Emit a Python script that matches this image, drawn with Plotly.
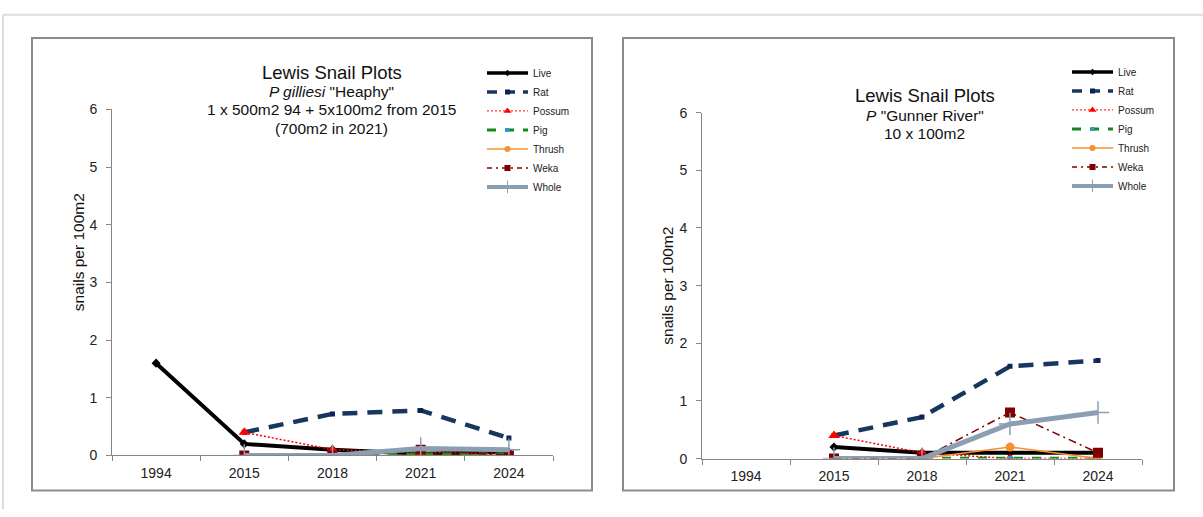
import plotly.graph_objects as go

# Survey years (category axis)
years = ["1994", "2015", "2018", "2021", "2024"]

# Plot 1: P gilliesi "Heaphy" — snails per 100m2
heaphy_live = [1.6, 0.2, 0.1, 0.03, 0.06]
heaphy_rat = [None, 0.4, 0.72, 0.78, 0.3]
heaphy_possum = [None, 0.4, 0.1, 0.05, 0.03]
heaphy_pig = [None, 0.0, 0.0, 0.02, 0.02]
heaphy_thrush = [None, 0.0, 0.0, 0.0, 0.0]
heaphy_weka = [None, 0.0, 0.0, 0.1, 0.0]
heaphy_whole = [None, 0.0, 0.0, 0.12, 0.1]

# Plot 2: P "Gunner River" — snails per 100m2
gunner_live = [None, 0.2, 0.1, 0.1, 0.1]
gunner_rat = [None, 0.4, 0.72, 1.6, 1.7]
gunner_possum = [None, 0.4, 0.1, 0.0, 0.0]
gunner_pig = [None, 0.0, 0.0, 0.0, 0.0]
gunner_thrush = [None, 0.0, 0.0, 0.2, 0.0]
gunner_weka = [None, 0.0, 0.0, 0.8, 0.1]
gunner_whole = [None, 0.0, 0.0, 0.6, 0.8]

series_names = ["Live", "Rat", "Possum", "Pig", "Thrush", "Weka", "Whole"]

FONT = "Liberation Sans, Arial, sans-serif"

# Line / marker style for each series as plotted
styles = {
    "Live": dict(line=dict(color="#000000", width=4),
                 marker=dict(symbol="diamond", size=7, color="#000000")),
    "Rat": dict(line=dict(color="#17375E", width=4.5, dash="15px,10px"),
                marker=dict(symbol="square", size=5, color="#0B2557")),
    "Possum": dict(line=dict(color="#FF0000", width=1.5, dash="2px,2px"),
                   marker=dict(symbol="triangle-up", size=10, color="#FF0000")),
    "Pig": dict(line=dict(color="#12891A", width=3.5, dash="9px,9px"),
                marker=dict(symbol="square", size=5, color="#2E98CF")),
    "Thrush": dict(line=dict(color="#F7902F", width=1.5),
                   marker=dict(symbol="circle", size=9, color="#F7902F")),
    "Weka": dict(line=dict(color="#800000", width=1.5, dash="8px,4px,2px,4px"),
                 marker=dict(symbol="square", size=10, color="#800000")),
    "Whole": dict(line=dict(color="#8C9EB2", width=5),
                  marker=dict(symbol="cross-thin", size=16,
                              line=dict(color="#8C9EB2", width=1.5))),
}

# Smaller symbols used for the legend keys
legend_styles = {
    "Live": dict(line=dict(color="#000000", width=3.5),
                 marker=dict(symbol="diamond", size=5, color="#000000")),
    "Rat": dict(line=dict(color="#17375E", width=3.5, dash="10px,8px"),
                marker=dict(symbol="square", size=5, color="#0B2557")),
    "Possum": dict(line=dict(color="#FF0000", width=1, dash="2px,2px"),
                   marker=dict(symbol="triangle-up", size=7, color="#FF0000")),
    "Pig": dict(line=dict(color="#12891A", width=3, dash="9px,9px"),
                marker=dict(symbol="square", size=4, color="#2E98CF")),
    "Thrush": dict(line=dict(color="#F7902F", width=1.5),
                   marker=dict(symbol="circle", size=6, color="#F7902F")),
    "Weka": dict(line=dict(color="#800000", width=1.5, dash="5px,4px,2px,4px"),
                 marker=dict(symbol="square", size=6, color="#800000")),
    "Whole": dict(line=dict(color="#8C9EB2", width=4),
                  marker=dict(symbol="cross-thin", size=9,
                              line=dict(color="#8C9EB2", width=1))),
}

heaphy = [heaphy_live, heaphy_rat, heaphy_possum, heaphy_pig,
          heaphy_thrush, heaphy_weka, heaphy_whole]
gunner = [gunner_live, gunner_rat, gunner_possum, gunner_pig,
          gunner_thrush, gunner_weka, gunner_whole]

fig = go.Figure()

for xa, ya, lg, data in [("x", "y", "legend", heaphy),
                         ("x2", "y2", "legend2", gunner)]:
    for name, vals in zip(series_names, data):
        fig.add_trace(go.Scatter(
            x=years, y=vals, name=name, mode="lines+markers",
            xaxis=xa, yaxis=ya, showlegend=False, hoverinfo="skip",
            **styles[name]))
    # legend keys (no data points)
    for name in series_names:
        fig.add_trace(go.Scatter(
            x=[None], y=[None], name=name, mode="lines+markers",
            xaxis=xa, yaxis=ya, legend=lg, showlegend=True,
            **legend_styles[name]))

W, H = 1203, 517


def px(x):
    return x / W


def py(y):
    return 1 - y / H


axis_common = dict(
    showline=True, linecolor="#868686", linewidth=1,
    ticks="outside", ticklen=5, tickcolor="#868686",
    showgrid=False, zeroline=False,
    tickfont=dict(family=FONT, size=14, color="#222222"),
)

xaxis_common = dict(axis_common, type="category", categoryorder="array",
                    categoryarray=years, tickson="boundaries",
                    range=[-0.5, 4.5], ticklabelstandoff=5)
yaxis_common = dict(axis_common, range=[0, 6], dtick=1, ticklabelstandoff=6)

legend_common = dict(
    font=dict(family=FONT, size=10, color="#222222"),
    bgcolor="rgba(0,0,0,0)", borderwidth=0, tracegroupgap=0,
    xanchor="left", yanchor="top", itemclick=False, itemwidth=41,
)

fig.update_layout(
    width=W, height=H, autosize=False,
    margin=dict(l=0, r=0, t=0, b=0),
    paper_bgcolor="#FFFFFF", plot_bgcolor="rgba(0,0,0,0)",
    font=dict(family=FONT, color="#222222"),
    xaxis=dict(xaxis_common, domain=[px(112), px(553)], anchor="y"),
    yaxis=dict(yaxis_common, domain=[py(461.7), py(104.7)], anchor="x"),
    xaxis2=dict(xaxis_common, domain=[px(702), px(1142)], anchor="y2"),
    yaxis2=dict(yaxis_common, domain=[py(465), py(108)], anchor="x2"),
    legend=dict(legend_common, x=px(482), y=py(52)),
    legend2=dict(legend_common, x=px(1067), y=py(51)),
    showlegend=True,
)

# Page frame and chart boxes
shapes = [
    dict(type="line", xref="paper", yref="paper", x0=px(3), x1=1,
         y0=py(7), y1=py(7), line=dict(color="#DCDCDC", width=2)),
    dict(type="line", xref="paper", yref="paper", x0=px(3), x1=px(3),
         y0=py(7), y1=0, line=dict(color="#DCDCDC", width=2)),
    dict(type="rect", xref="paper", yref="paper", x0=px(32), x1=px(592),
         y0=py(498), y1=py(31), line=dict(color="#8C8C8C", width=2)),
    dict(type="rect", xref="paper", yref="paper", x0=px(623), x1=px(1174),
         y0=py(498), y1=py(31), line=dict(color="#8C8C8C", width=2)),
]
fig.update_layout(shapes=shapes)


def title_lines(cx, lines):
    out = []
    for text, yy, size in lines:
        out.append(dict(text=text, xref="paper", yref="paper", x=px(cx),
                        y=py(yy), xanchor="center", yanchor="middle",
                        showarrow=False,
                        font=dict(family=FONT, size=size, color="#111111")))
    return out


annotations = []
annotations += title_lines(331.5, [
    ("Lewis Snail Plots", 66.7, 18.5),
    ("<i>P gilliesi</i> \"Heaphy\"", 86, 15.5),
    ("1 x 500m2 94 + 5x100m2 from 2015", 105, 15.5),
    ("(700m2 in 2021)", 124, 15.5),
])
annotations += title_lines(924.5, [
    ("Lewis Snail Plots", 90.7, 18.5),
    ("<i>P</i> \"Gunner River\"", 111, 15.5),
    ("10 x 100m2", 130, 15.5),
])

for cx, cy in [(78, 252), (668, 286.5)]:
    annotations.append(dict(
        text="snails per 100m2", xref="paper", yref="paper",
        x=px(cx), y=py(cy), xanchor="center", yanchor="middle",
        textangle=-90, showarrow=False,
        font=dict(family=FONT, size=15.5, color="#111111")))

fig.update_layout(annotations=annotations)

fig.write_html("out.html")
